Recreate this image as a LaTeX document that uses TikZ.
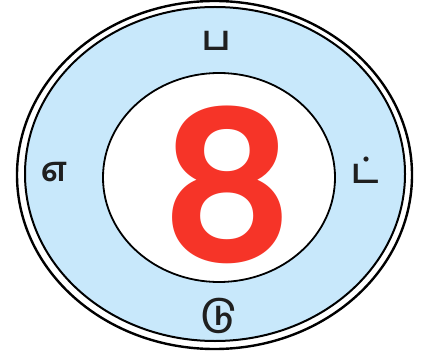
\documentclass[tikz,border=0pt]{standalone}
\usepackage{fontspec}
\newfontfamily\tamil[Script=Tamil]{Hind Madurai}
\newfontfamily\digitfont{Poppins SemiBold}
\definecolor{ringblue}{RGB}{200,232,251}
\definecolor{eightred}{RGB}{246,52,40}
\begin{document}
\begin{tikzpicture}[x=1pt,y=1pt,
  letter/.style={font=\tamil\bfseries\fontsize{34}{40}\selectfont, text=black!88, inner sep=0pt}]
\useasboundingbox (0,0) rectangle (435,356);
\fill[white] (0,0) rectangle (435,356);
% outer double ring
\draw[line width=2.4pt, black] (214.5,181) ellipse [x radius=197.5, y radius=174];
\draw[line width=2pt, black, fill=ringblue] (215,182) ellipse [x radius=190, y radius=167];
% inner white disc
\draw[line width=1.8pt, black, fill=white] (219,178.5) ellipse [x radius=116, y radius=104.5];
% the big eight
\node[inner sep=0pt, font=\digitfont\fontsize{208}{208}\selectfont, text=eightred] (eight) at (227,171) {8};
% letters
\node[letter] (top) at (216,315) {ப};
\node[letter] (left) at (54,184) {எ};
\node[letter] (right) at (365,186) {ட்};
\node[letter] (bottom) at (219,40) {டு};
\end{tikzpicture}
\end{document}
